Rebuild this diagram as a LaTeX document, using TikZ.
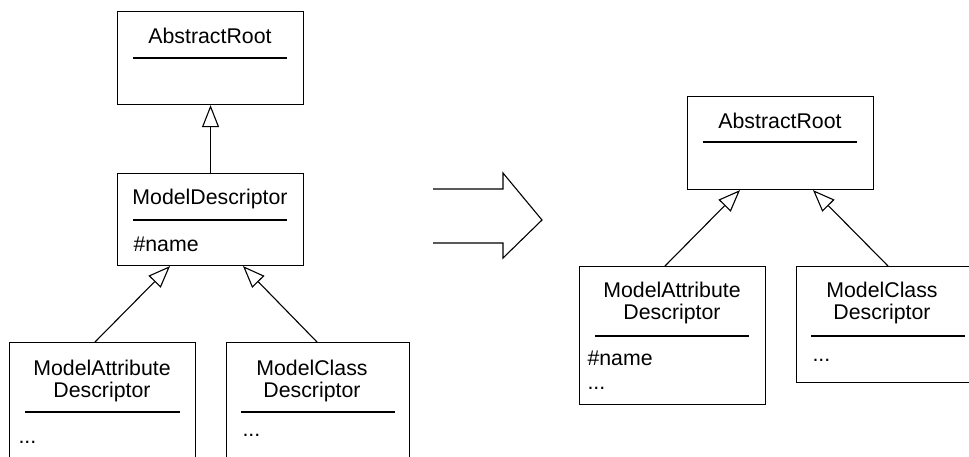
\documentclass[tikz,border=0pt]{standalone}
\usepackage{fontspec}
\setmainfont{Liberation Sans}
\usetikzlibrary{arrows.meta}

\begin{document}
\begin{tikzpicture}[x=1pt,y=-1pt,
  line width=1.1pt,
  classbox/.style={draw, rectangle, anchor=north west, inner sep=0pt},
  label/.style={inner sep=0pt, font=\fontsize{21.3}{22}\selectfont},
  title/.style={label, anchor=base, align=center},
  member/.style={label, anchor=base west},
  sep/.style={line width=1.1pt},
  inherit/.style={-{Triangle[open, length=22pt, width=17pt]}},
]
\useasboundingbox (0,0) rectangle (969,456);
\clip (0,0) rectangle (969,456);

% ---------- hierarchy before the refactoring ----------
\node[classbox, minimum width=186pt, minimum height=93pt] (ar1) at (117,11) {};
\node[title] (ar1t) at (210,43) {AbstractRoot};
\draw[sep] (133,58) -- (287,58);

\node[classbox, minimum width=186pt, minimum height=92pt] (md1) at (117,173) {};
\node[title] (md1t) at (210,204) {ModelDescriptor};
\draw[sep] (133,220) -- (287,220);
\node[member] (md1a) at (133,251) {\#name};

% two-line titles: the base anchor sits on the last line
\node[classbox, minimum width=186pt, minimum height=200pt] (ma1) at (9,342) {};
\node[title] (ma1t) at (102,397) {ModelAttribute\\Descriptor};
\draw[sep] (25,412) -- (180,412);
\node[member] (ma1a) at (18,443) {...};

\node[classbox, minimum width=183pt, minimum height=200pt] (mc1) at (226,342) {};
\node[title] (mc1t) at (312,397) {ModelClass\\Descriptor};
\draw[sep] (241,412) -- (395,412);
\node[member] (mc1a) at (242,436) {...};

\draw[inherit] (md1.north) -- (ar1.south);
\draw[inherit] ([xshift=86pt]ma1.north west) -- ([xshift=53pt]md1.south west);
\draw[inherit] ([xshift=91pt]mc1.north west) -- ([xshift=126pt]md1.south west);

% ---------- transformation arrow ----------
\draw[line join=miter] (433,189) -- (503,189) -- (503,173) -- (542,220)
  -- (503,258) -- (503,243) -- (433,243);

% ---------- hierarchy after the refactoring ----------
\node[classbox, minimum width=186pt, minimum height=93pt] (ar2) at (687,96) {};
\node[title] (ar2t) at (780,128) {AbstractRoot};
\draw[sep] (703,142) -- (857,142);

\node[classbox, minimum width=186pt, minimum height=138pt] (ma2) at (579,266) {};
\node[title] (ma2t) at (672,319) {ModelAttribute\\Descriptor};
\draw[sep] (595,336) -- (749,336);
\node[member] (ma2a) at (587,365) {\#name};
\node[member] (ma2b) at (587,389) {...};

\node[classbox, minimum width=186pt, minimum height=116pt] (mc2) at (796,266) {};
\node[title] (mc2t) at (882,319) {ModelClass\\Descriptor};
\draw[sep] (811,336) -- (965,336);
\node[member] (mc2a) at (812,361) {...};

\draw[inherit] ([xshift=86pt]ma2.north west) -- ([xshift=53pt]ar2.south west);
\draw[inherit] ([xshift=92pt]mc2.north west) -- ([xshift=126pt]ar2.south west);
\end{tikzpicture}
\end{document}
